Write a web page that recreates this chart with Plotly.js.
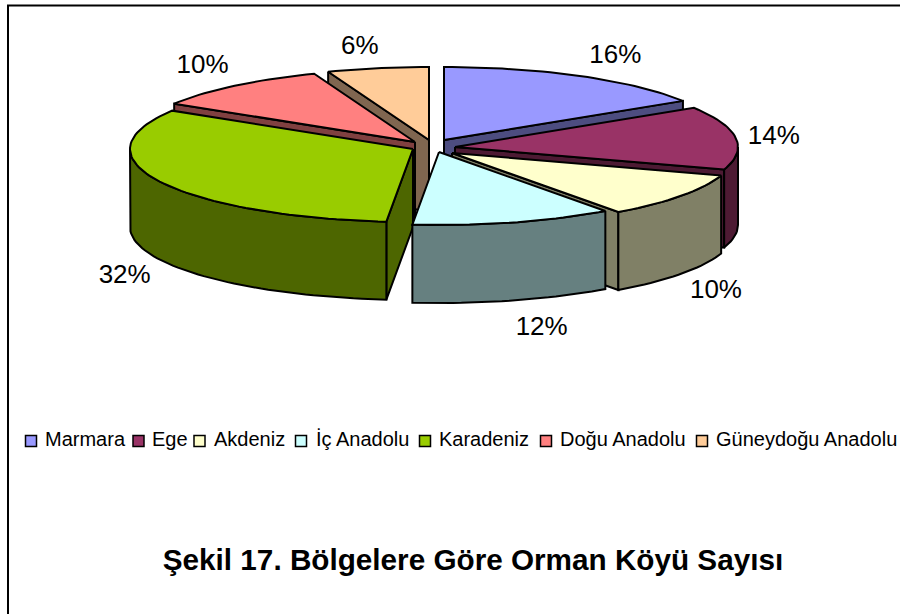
<!DOCTYPE html>
<html>
<head>
<meta charset="utf-8">
<script src="https://cdn.plot.ly/plotly-3.0.1.min.js"></script>
<style>html,body{margin:0;padding:0;background:#fff}#chart{width:900px;height:614px}</style>
</head>
<body>
<div id="chart"></div>
<script>
// Data
const regions = ['Marmara','Ege','Akdeniz','İç Anadolu','Karadeniz','Doğu Anadolu','Güneydoğu Anadolu'];
const shares = [16.0,14.0,10.0,11.5,32.3,10.4,5.8];
const percentLabels = ['16%','14%','10%','12%','32%','10%','6%'];
const topColors = ['#9999FF','#993366','#FFFFCC','#CCFFFF','#99CC00','#FF8080','#FFCC99'];
const wallColors = ['#4D4D80','#4D1A33','#808066','#668080','#4D6600','#804040','#806650'];
const chartTitle = 'Şekil 17. Bölgelere Göre Orman Köyü Sayısı';

// Pie geometry (style)
const hub = {x:434, y:147}, rx = 283, ry = 73, depth = 78;
const pullX = [10,21,18,5,-21,-19,-5], pullY = [-7,0,6,5,2,-5,-7];
const paintOrder = [6,0,5,1,4,2,3];
const labelDx = [35,38,35,28,-35,-32,-18], labelDy = [-20,0,96,106,95,-19,-21];
const legendSwatchX = [31,138.5,199.5,301,425,546,702], legendTextX = [45,152,214,316,439,560,716], legendY = 441;

const total = shares.reduce((a,b)=>a+b,0);
let run = 0;
const slices = shares.map((v,i)=>{
  const a0 = run/total*2*Math.PI; run += v; const a1 = run/total*2*Math.PI;
  return {i,a0,a1,cx:hub.x+pullX[i],cy:hub.y+pullY[i]};
});
const rim = (s,a,dz=0)=>[s.cx+rx*Math.sin(a), s.cy-ry*Math.cos(a)+dz];
function poly(pts,color){
  return {type:'scatter',mode:'lines',x:pts.map(p=>p[0]),y:pts.map(p=>p[1]),fill:'toself',fillcolor:color,
    line:{color:'#000',width:2,shape:'linear'},hoverinfo:'skip',showlegend:false};
}
function arc(s,a0,a1,dz){
  const n = Math.max(2,Math.ceil((a1-a0)/0.03)), out=[];
  for(let k=0;k<=n;k++) out.push(rim(s,a0+(a1-a0)*k/n,dz));
  return out;
}
const traces = [];
paintOrder.forEach(idx=>{
  const s = slices[idx], c = wallColors[idx], hubTop=[s.cx,s.cy], hubBot=[s.cx,s.cy+depth];
  // radial walls that face the viewer
  const walls=[];
  if(Math.sin(s.a0)<-1e-6) walls.push(s.a0);
  if(Math.sin(s.a1)>1e-6) walls.push(s.a1);
  walls.forEach(a=>{
    const p=rim(s,a), q=rim(s,a,depth);
    traces.push(poly([hubTop,p,q,hubBot,hubTop],c));
  });
  // visible rim: front half only
  const f0=Math.max(s.a0,Math.PI/2), f1=Math.min(s.a1,1.5*Math.PI);
  if(f1>f0){
    const band=arc(s,f0,f1,0).concat(arc(s,f0,f1,depth).reverse());
    band.push(band[0]);
    traces.push(poly(band,c));
  }
  // top face
  traces.push(poly([hubTop].concat(arc(s,s.a0,s.a1,0),[hubTop]),topColors[idx]));
});

// percent labels
const lx=[],ly=[];
slices.forEach(s=>{
  const p=rim(s,(s.a0+s.a1)/2);
  lx.push(p[0]+labelDx[s.i]); ly.push(p[1]+labelDy[s.i]);
});
traces.push({type:'scatter',mode:'text',x:lx,y:ly,text:percentLabels,textposition:'middle center',
  textfont:{family:'Liberation Sans',size:26,color:'#000'},hoverinfo:'skip',showlegend:false});

// legend
traces.push({type:'scatter',mode:'markers',x:legendSwatchX,y:regions.map(()=>legendY),
  marker:{symbol:'square',size:11,color:topColors,line:{color:'#000',width:1.5}},hoverinfo:'skip',showlegend:false});
traces.push({type:'scatter',mode:'text',x:legendTextX,y:regions.map(()=>legendY),text:regions,textposition:'middle right',
  textfont:{family:'Liberation Sans',size:20,color:'#000'},hoverinfo:'skip',showlegend:false,cliponaxis:false});

const layout = {
  width:900,height:614,margin:{l:0,r:0,t:0,b:0},paper_bgcolor:'#fff',plot_bgcolor:'#fff',showlegend:false,
  title:{text:'<b>'+chartTitle+'</b>',x:473/900,xanchor:'center',y:1-559.5/614,yanchor:'middle',
    font:{family:'Liberation Sans',size:29.7,color:'#000'}},
  xaxis:{range:[0,900],visible:false,fixedrange:true},
  yaxis:{range:[614,0],visible:false,fixedrange:true},
  shapes:[
    {type:'line',xref:'x',yref:'y',x0:8,x1:8,y0:5,y1:614,line:{color:'#000',width:2}},
    {type:'line',xref:'x',yref:'y',x0:7,x1:900,y0:5.5,y1:5.5,line:{color:'#000',width:2}}
  ]
};
Plotly.newPlot('chart',traces,layout,{displayModeBar:false,staticPlot:true});
</script>
</body>
</html>
